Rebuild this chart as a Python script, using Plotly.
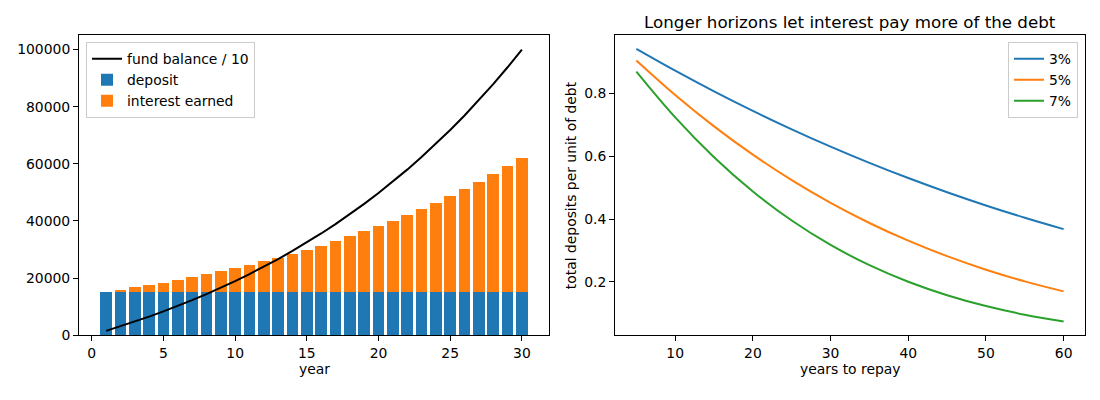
import plotly.graph_objects as go

# ---- left panel data (sinking fund, 30 years) ----
years = list(range(1, 31))
deposit = [15051] * 30
interest = [0, 753, 1543, 2372, 3244, 4158, 5119, 6127, 7186, 8298,
            9466, 10691, 11978, 13330, 14749, 16239, 17803, 19446, 21171, 22982,
            24884, 26880, 28977, 31178, 33490, 35917, 38466, 41141, 43951, 46901]
balance_10 = [1505, 3085, 4745, 6487, 8317, 10238, 12255, 14372, 16596, 18931,
              21383, 23957, 26660, 29498, 32478, 35607, 38892, 42342, 45964, 49768,
              53761, 57954, 62357, 66982, 71835, 76931, 82282, 87902, 93802, 99998]

# ---- right panel data ----
horizon = [5, 10, 15, 20, 25, 30, 35, 40, 45, 50, 55, 60]
r3 = [0.9418, 0.8723, 0.8065, 0.7443, 0.6857, 0.6306, 0.5789, 0.5305, 0.4853, 0.4433, 0.4042, 0.3680]
r5 = [0.9049, 0.7950, 0.6951, 0.6049, 0.5238, 0.4515, 0.3875, 0.3311, 0.2818, 0.2388, 0.2017, 0.1697]
r7 = [0.8695, 0.7238, 0.5969, 0.4879, 0.3953, 0.3176, 0.2532, 0.2004, 0.1575, 0.1230, 0.0955, 0.0738]
rate_names = ["3%", "5%", "7%"]
colors = ["#1f77b4", "#ff7f0e", "#2ca02c"]

FONT = "DejaVu Sans"
FS = 13.9

fig = go.Figure()
fig.add_trace(go.Bar(x=years, y=deposit, name="deposit", marker=dict(color="#1f77b4", line=dict(width=0)),
                     width=0.8, xaxis="x", yaxis="y", legend="legend", legendrank=2))
fig.add_trace(go.Bar(x=years, y=interest, name="interest earned", marker=dict(color="#ff7f0e", line=dict(width=0)),
                     width=0.8, xaxis="x", yaxis="y", legend="legend", legendrank=3))
fig.add_trace(go.Scatter(x=years, y=balance_10, mode="lines", name="fund balance / 10",
                         line=dict(color="black", width=2), xaxis="x", yaxis="y", legend="legend", legendrank=1))

for name, vals, c in zip(rate_names, [r3, r5, r7], colors):
    fig.add_trace(go.Scatter(x=horizon, y=vals, mode="lines", name=name,
                             line=dict(color=c, width=2, shape="spline", smoothing=1.0),
                             xaxis="x2", yaxis="y2", legend="legend2"))

axis_common = dict(showline=True, linecolor="black", linewidth=1, mirror=True, ticks="outside",
                   ticklen=5, tickwidth=1, tickcolor="black", showgrid=False, zeroline=False,
                   tickfont=dict(family=FONT, size=FS, color="black"))

fig.update_layout(
    width=1100, height=400,
    margin=dict(l=0, r=0, t=0, b=0),
    paper_bgcolor="white", plot_bgcolor="white",
    barmode="stack", bargap=0,
    font=dict(family=FONT, size=FS, color="black"),
    xaxis=dict(domain=[79/1100, 549/1100], range=[-0.89, 31.89], tickvals=[0, 5, 10, 15, 20, 25, 30],
               anchor="y", **axis_common),
    yaxis=dict(domain=[58/400, 364/400], range=[0, 105000], tickvals=[0, 20000, 40000, 60000, 80000, 100000],
               tickformat="d", anchor="x", **axis_common),
    xaxis2=dict(domain=[615/1100, 1085/1100], range=[2.25, 62.75], tickvals=[10, 20, 30, 40, 50, 60],
                anchor="y2", **axis_common),
    yaxis2=dict(domain=[58/400, 364/400], range=[0.0304, 0.985], tickvals=[0.2, 0.4, 0.6, 0.8],
                tickformat=".1f", anchor="x2", **axis_common),
    legend=dict(x=86/1100, y=(400-43)/400, xanchor="left", yanchor="top", bgcolor="white",
                bordercolor="#cccccc", borderwidth=1, traceorder="normal",
                font=dict(family=FONT, size=FS, color="black")),
    legend2=dict(x=1078/1100, y=(400-43)/400, xanchor="right", yanchor="top", bgcolor="white",
                 bordercolor="#cccccc", borderwidth=1, traceorder="normal",
                 font=dict(family=FONT, size=FS, color="black")),
    annotations=[
        dict(text="year", x=314/1100, y=(400-377)/400, xref="paper", yref="paper", showarrow=False,
             xanchor="center", yanchor="middle", font=dict(family=FONT, size=FS, color="black")),
        dict(text="years to repay", x=850/1100, y=(400-377)/400, xref="paper", yref="paper", showarrow=False,
             xanchor="center", yanchor="middle", font=dict(family=FONT, size=FS, color="black")),
        dict(text="total deposits per unit of debt", x=571/1100, y=(400-189)/400, xref="paper", yref="paper",
             showarrow=False, textangle=-90, xanchor="center", yanchor="middle",
             font=dict(family=FONT, size=FS, color="black")),
        dict(text="Longer horizons let interest pay more of the debt", x=850/1100, y=(400-22)/400,
             xref="paper", yref="paper", showarrow=False, xanchor="center", yanchor="middle",
             font=dict(family=FONT, size=16.7, color="black")),
    ],
)

fig.write_html("out.html")
